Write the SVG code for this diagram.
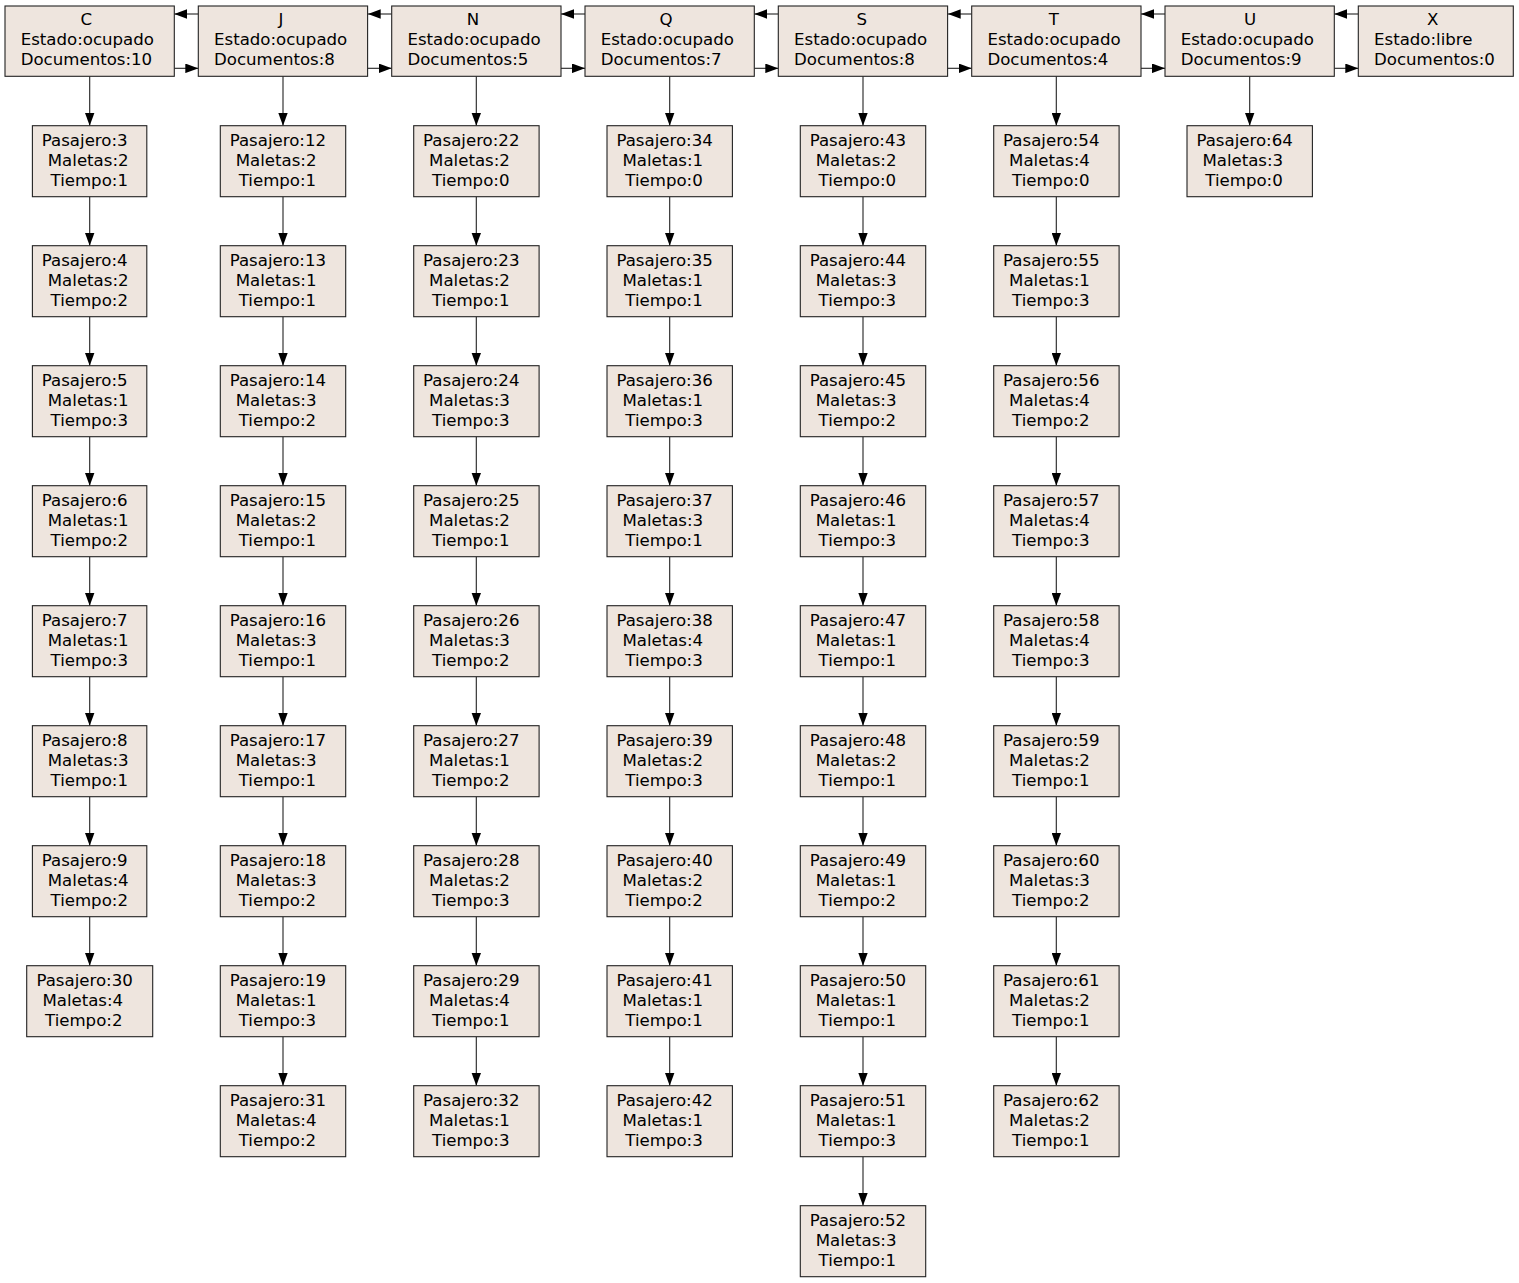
<svg xmlns="http://www.w3.org/2000/svg" width="1519" height="1283" viewBox="0 0 1519 1283">
<style>
  .box { fill: #eee5de; stroke: #222; stroke-width: 1.1; }
  .t { font-family: "DejaVu Sans", "Liberation Sans", sans-serif; font-size: 16.6px; fill: #000; }
  .m { text-anchor: middle; }
  .e { fill: none; stroke: #222; stroke-width: 1.1; marker-end: url(#arrow); }
</style>
<defs>
  <marker id="arrow" markerUnits="userSpaceOnUse" viewBox="0 0 13 9.6" refX="13" refY="4.8" markerWidth="13" markerHeight="9.6" orient="auto">
    <path d="M0,0 L13,4.8 L0,9.6 z" fill="#000"/>
  </marker>
</defs>
<rect width="1519" height="1283" fill="#fff"/>

<!-- connectors -->
<g id="edges">
  <!-- queue links between the counters -->
  <path class="e" d="M198.3,14 H174.3"/><path class="e" d="M174.3,68.3 H198.3"/>
  <path class="e" d="M391.7,14 H367.7"/><path class="e" d="M367.7,68.3 H391.7"/>
  <path class="e" d="M585,14 H561"/><path class="e" d="M561,68.3 H585"/>
  <path class="e" d="M778.3,14 H754.3"/><path class="e" d="M754.3,68.3 H778.3"/>
  <path class="e" d="M971.7,14 H947.7"/><path class="e" d="M947.7,68.3 H971.7"/>
  <path class="e" d="M1165,14 H1141"/><path class="e" d="M1141,68.3 H1165"/>
  <path class="e" d="M1358.3,14 H1334.3"/><path class="e" d="M1334.3,68.3 H1358.3"/>
  <!-- column C -->
  <path class="e" d="M89.7,76.3 V125.7"/>
  <path class="e" d="M89.7,196.7 V245.7"/><path class="e" d="M89.7,316.7 V365.7"/><path class="e" d="M89.7,436.7 V485.7"/>
  <path class="e" d="M89.7,556.7 V605.7"/><path class="e" d="M89.7,676.7 V725.7"/><path class="e" d="M89.7,796.7 V845.7"/>
  <path class="e" d="M89.7,916.7 V965.7"/>
  <!-- column J -->
  <path class="e" d="M283,76.3 V125.7"/>
  <path class="e" d="M283,196.7 V245.7"/><path class="e" d="M283,316.7 V365.7"/><path class="e" d="M283,436.7 V485.7"/>
  <path class="e" d="M283,556.7 V605.7"/><path class="e" d="M283,676.7 V725.7"/><path class="e" d="M283,796.7 V845.7"/>
  <path class="e" d="M283,916.7 V965.7"/><path class="e" d="M283,1036.7 V1085.7"/>
  <!-- column N -->
  <path class="e" d="M476.3,76.3 V125.7"/>
  <path class="e" d="M476.3,196.7 V245.7"/><path class="e" d="M476.3,316.7 V365.7"/><path class="e" d="M476.3,436.7 V485.7"/>
  <path class="e" d="M476.3,556.7 V605.7"/><path class="e" d="M476.3,676.7 V725.7"/><path class="e" d="M476.3,796.7 V845.7"/>
  <path class="e" d="M476.3,916.7 V965.7"/><path class="e" d="M476.3,1036.7 V1085.7"/>
  <!-- column Q -->
  <path class="e" d="M669.7,76.3 V125.7"/>
  <path class="e" d="M669.7,196.7 V245.7"/><path class="e" d="M669.7,316.7 V365.7"/><path class="e" d="M669.7,436.7 V485.7"/>
  <path class="e" d="M669.7,556.7 V605.7"/><path class="e" d="M669.7,676.7 V725.7"/><path class="e" d="M669.7,796.7 V845.7"/>
  <path class="e" d="M669.7,916.7 V965.7"/><path class="e" d="M669.7,1036.7 V1085.7"/>
  <!-- column S -->
  <path class="e" d="M863,76.3 V125.7"/>
  <path class="e" d="M863,196.7 V245.7"/><path class="e" d="M863,316.7 V365.7"/><path class="e" d="M863,436.7 V485.7"/>
  <path class="e" d="M863,556.7 V605.7"/><path class="e" d="M863,676.7 V725.7"/><path class="e" d="M863,796.7 V845.7"/>
  <path class="e" d="M863,916.7 V965.7"/><path class="e" d="M863,1036.7 V1085.7"/><path class="e" d="M863,1156.7 V1205.7"/>
  <!-- column T -->
  <path class="e" d="M1056.3,76.3 V125.7"/>
  <path class="e" d="M1056.3,196.7 V245.7"/><path class="e" d="M1056.3,316.7 V365.7"/><path class="e" d="M1056.3,436.7 V485.7"/>
  <path class="e" d="M1056.3,556.7 V605.7"/><path class="e" d="M1056.3,676.7 V725.7"/><path class="e" d="M1056.3,796.7 V845.7"/>
  <path class="e" d="M1056.3,916.7 V965.7"/><path class="e" d="M1056.3,1036.7 V1085.7"/>
  <!-- column U -->
  <path class="e" d="M1249.7,76.3 V125.7"/>
</g>

<!-- counters -->
<g id="C"><rect class="box" x="5" y="6" width="169.3" height="70.3"/>
  <text class="t m" x="86.2" y="25">C</text><text class="t" x="20.7" y="45">Estado:ocupado</text><text class="t" x="20.7" y="65">Documentos:10</text></g>
<g id="J"><rect class="box" x="198.3" y="6" width="169.3" height="70.3"/>
  <text class="t m" x="281" y="25">J</text><text class="t" x="214" y="45">Estado:ocupado</text><text class="t" x="214" y="65">Documentos:8</text></g>
<g id="N"><rect class="box" x="391.7" y="6" width="169.3" height="70.3"/>
  <text class="t m" x="473" y="25">N</text><text class="t" x="407.4" y="45">Estado:ocupado</text><text class="t" x="407.4" y="65">Documentos:5</text></g>
<g id="Q"><rect class="box" x="585" y="6" width="169.3" height="70.3"/>
  <text class="t m" x="666" y="25">Q</text><text class="t" x="600.7" y="45">Estado:ocupado</text><text class="t" x="600.7" y="65">Documentos:7</text></g>
<g id="S"><rect class="box" x="778.3" y="6" width="169.3" height="70.3"/>
  <text class="t m" x="861.7" y="25">S</text><text class="t" x="794" y="45">Estado:ocupado</text><text class="t" x="794" y="65">Documentos:8</text></g>
<g id="T"><rect class="box" x="971.7" y="6" width="169.3" height="70.3"/>
  <text class="t m" x="1053.8" y="25">T</text><text class="t" x="987.4" y="45">Estado:ocupado</text><text class="t" x="987.4" y="65">Documentos:4</text></g>
<g id="U"><rect class="box" x="1165" y="6" width="169.3" height="70.3"/>
  <text class="t m" x="1250" y="25">U</text><text class="t" x="1180.7" y="45">Estado:ocupado</text><text class="t" x="1180.7" y="65">Documentos:9</text></g>
<g id="X"><rect class="box" x="1358.3" y="6" width="155" height="70.3"/>
  <text class="t m" x="1432.7" y="25">X</text><text class="t" x="1374" y="45">Estado:libre</text><text class="t" x="1374" y="65">Documentos:0</text></g>

<!-- passengers, column C -->
<g id="p3"><rect class="box" x="32.4" y="125.7" width="114.4" height="71"/><text class="t" x="41.8" y="146.2">Pasajero:3</text><text class="t" x="47.8" y="166.2">Maletas:2</text><text class="t" x="50.5" y="186.2">Tiempo:1</text></g>
<g id="p4"><rect class="box" x="32.4" y="245.7" width="114.4" height="71"/><text class="t" x="41.8" y="266.2">Pasajero:4</text><text class="t" x="47.8" y="286.2">Maletas:2</text><text class="t" x="50.5" y="306.2">Tiempo:2</text></g>
<g id="p5"><rect class="box" x="32.4" y="365.7" width="114.4" height="71"/><text class="t" x="41.8" y="386.2">Pasajero:5</text><text class="t" x="47.8" y="406.2">Maletas:1</text><text class="t" x="50.5" y="426.2">Tiempo:3</text></g>
<g id="p6"><rect class="box" x="32.4" y="485.7" width="114.4" height="71"/><text class="t" x="41.8" y="506.2">Pasajero:6</text><text class="t" x="47.8" y="526.2">Maletas:1</text><text class="t" x="50.5" y="546.2">Tiempo:2</text></g>
<g id="p7"><rect class="box" x="32.4" y="605.7" width="114.4" height="71"/><text class="t" x="41.8" y="626.2">Pasajero:7</text><text class="t" x="47.8" y="646.2">Maletas:1</text><text class="t" x="50.5" y="666.2">Tiempo:3</text></g>
<g id="p8"><rect class="box" x="32.4" y="725.7" width="114.4" height="71"/><text class="t" x="41.8" y="746.2">Pasajero:8</text><text class="t" x="47.8" y="766.2">Maletas:3</text><text class="t" x="50.5" y="786.2">Tiempo:1</text></g>
<g id="p9"><rect class="box" x="32.4" y="845.7" width="114.4" height="71"/><text class="t" x="41.8" y="866.2">Pasajero:9</text><text class="t" x="47.8" y="886.2">Maletas:4</text><text class="t" x="50.5" y="906.2">Tiempo:2</text></g>
<g id="p30"><rect class="box" x="26.7" y="965.7" width="126" height="71"/><text class="t" x="36.4" y="986.2">Pasajero:30</text><text class="t" x="42.4" y="1006.2">Maletas:4</text><text class="t" x="45" y="1026.2">Tiempo:2</text></g>

<!-- passengers, column J -->
<g id="p12"><rect class="box" x="220.3" y="125.7" width="125.4" height="71"/><text class="t" x="229.7" y="146.2">Pasajero:12</text><text class="t" x="235.7" y="166.2">Maletas:2</text><text class="t" x="238.7" y="186.2">Tiempo:1</text></g>
<g id="p13"><rect class="box" x="220.3" y="245.7" width="125.4" height="71"/><text class="t" x="229.7" y="266.2">Pasajero:13</text><text class="t" x="235.7" y="286.2">Maletas:1</text><text class="t" x="238.7" y="306.2">Tiempo:1</text></g>
<g id="p14"><rect class="box" x="220.3" y="365.7" width="125.4" height="71"/><text class="t" x="229.7" y="386.2">Pasajero:14</text><text class="t" x="235.7" y="406.2">Maletas:3</text><text class="t" x="238.7" y="426.2">Tiempo:2</text></g>
<g id="p15"><rect class="box" x="220.3" y="485.7" width="125.4" height="71"/><text class="t" x="229.7" y="506.2">Pasajero:15</text><text class="t" x="235.7" y="526.2">Maletas:2</text><text class="t" x="238.7" y="546.2">Tiempo:1</text></g>
<g id="p16"><rect class="box" x="220.3" y="605.7" width="125.4" height="71"/><text class="t" x="229.7" y="626.2">Pasajero:16</text><text class="t" x="235.7" y="646.2">Maletas:3</text><text class="t" x="238.7" y="666.2">Tiempo:1</text></g>
<g id="p17"><rect class="box" x="220.3" y="725.7" width="125.4" height="71"/><text class="t" x="229.7" y="746.2">Pasajero:17</text><text class="t" x="235.7" y="766.2">Maletas:3</text><text class="t" x="238.7" y="786.2">Tiempo:1</text></g>
<g id="p18"><rect class="box" x="220.3" y="845.7" width="125.4" height="71"/><text class="t" x="229.7" y="866.2">Pasajero:18</text><text class="t" x="235.7" y="886.2">Maletas:3</text><text class="t" x="238.7" y="906.2">Tiempo:2</text></g>
<g id="p19"><rect class="box" x="220.3" y="965.7" width="125.4" height="71"/><text class="t" x="229.7" y="986.2">Pasajero:19</text><text class="t" x="235.7" y="1006.2">Maletas:1</text><text class="t" x="238.7" y="1026.2">Tiempo:3</text></g>
<g id="p31"><rect class="box" x="220.3" y="1085.7" width="125.4" height="71"/><text class="t" x="229.7" y="1106.2">Pasajero:31</text><text class="t" x="235.7" y="1126.2">Maletas:4</text><text class="t" x="238.7" y="1146.2">Tiempo:2</text></g>

<!-- passengers, column N -->
<g id="p22"><rect class="box" x="413.7" y="125.7" width="125.4" height="71"/><text class="t" x="423.1" y="146.2">Pasajero:22</text><text class="t" x="429.1" y="166.2">Maletas:2</text><text class="t" x="432" y="186.2">Tiempo:0</text></g>
<g id="p23"><rect class="box" x="413.7" y="245.7" width="125.4" height="71"/><text class="t" x="423.1" y="266.2">Pasajero:23</text><text class="t" x="429.1" y="286.2">Maletas:2</text><text class="t" x="432" y="306.2">Tiempo:1</text></g>
<g id="p24"><rect class="box" x="413.7" y="365.7" width="125.4" height="71"/><text class="t" x="423.1" y="386.2">Pasajero:24</text><text class="t" x="429.1" y="406.2">Maletas:3</text><text class="t" x="432" y="426.2">Tiempo:3</text></g>
<g id="p25"><rect class="box" x="413.7" y="485.7" width="125.4" height="71"/><text class="t" x="423.1" y="506.2">Pasajero:25</text><text class="t" x="429.1" y="526.2">Maletas:2</text><text class="t" x="432" y="546.2">Tiempo:1</text></g>
<g id="p26"><rect class="box" x="413.7" y="605.7" width="125.4" height="71"/><text class="t" x="423.1" y="626.2">Pasajero:26</text><text class="t" x="429.1" y="646.2">Maletas:3</text><text class="t" x="432" y="666.2">Tiempo:2</text></g>
<g id="p27"><rect class="box" x="413.7" y="725.7" width="125.4" height="71"/><text class="t" x="423.1" y="746.2">Pasajero:27</text><text class="t" x="429.1" y="766.2">Maletas:1</text><text class="t" x="432" y="786.2">Tiempo:2</text></g>
<g id="p28"><rect class="box" x="413.7" y="845.7" width="125.4" height="71"/><text class="t" x="423.1" y="866.2">Pasajero:28</text><text class="t" x="429.1" y="886.2">Maletas:2</text><text class="t" x="432" y="906.2">Tiempo:3</text></g>
<g id="p29"><rect class="box" x="413.7" y="965.7" width="125.4" height="71"/><text class="t" x="423.1" y="986.2">Pasajero:29</text><text class="t" x="429.1" y="1006.2">Maletas:4</text><text class="t" x="432" y="1026.2">Tiempo:1</text></g>
<g id="p32"><rect class="box" x="413.7" y="1085.7" width="125.4" height="71"/><text class="t" x="423.1" y="1106.2">Pasajero:32</text><text class="t" x="429.1" y="1126.2">Maletas:1</text><text class="t" x="432" y="1146.2">Tiempo:3</text></g>

<!-- passengers, column Q -->
<g id="p34"><rect class="box" x="607" y="125.7" width="125.4" height="71"/><text class="t" x="616.4" y="146.2">Pasajero:34</text><text class="t" x="622.4" y="166.2">Maletas:1</text><text class="t" x="625.3" y="186.2">Tiempo:0</text></g>
<g id="p35"><rect class="box" x="607" y="245.7" width="125.4" height="71"/><text class="t" x="616.4" y="266.2">Pasajero:35</text><text class="t" x="622.4" y="286.2">Maletas:1</text><text class="t" x="625.3" y="306.2">Tiempo:1</text></g>
<g id="p36"><rect class="box" x="607" y="365.7" width="125.4" height="71"/><text class="t" x="616.4" y="386.2">Pasajero:36</text><text class="t" x="622.4" y="406.2">Maletas:1</text><text class="t" x="625.3" y="426.2">Tiempo:3</text></g>
<g id="p37"><rect class="box" x="607" y="485.7" width="125.4" height="71"/><text class="t" x="616.4" y="506.2">Pasajero:37</text><text class="t" x="622.4" y="526.2">Maletas:3</text><text class="t" x="625.3" y="546.2">Tiempo:1</text></g>
<g id="p38"><rect class="box" x="607" y="605.7" width="125.4" height="71"/><text class="t" x="616.4" y="626.2">Pasajero:38</text><text class="t" x="622.4" y="646.2">Maletas:4</text><text class="t" x="625.3" y="666.2">Tiempo:3</text></g>
<g id="p39"><rect class="box" x="607" y="725.7" width="125.4" height="71"/><text class="t" x="616.4" y="746.2">Pasajero:39</text><text class="t" x="622.4" y="766.2">Maletas:2</text><text class="t" x="625.3" y="786.2">Tiempo:3</text></g>
<g id="p40"><rect class="box" x="607" y="845.7" width="125.4" height="71"/><text class="t" x="616.4" y="866.2">Pasajero:40</text><text class="t" x="622.4" y="886.2">Maletas:2</text><text class="t" x="625.3" y="906.2">Tiempo:2</text></g>
<g id="p41"><rect class="box" x="607" y="965.7" width="125.4" height="71"/><text class="t" x="616.4" y="986.2">Pasajero:41</text><text class="t" x="622.4" y="1006.2">Maletas:1</text><text class="t" x="625.3" y="1026.2">Tiempo:1</text></g>
<g id="p42"><rect class="box" x="607" y="1085.7" width="125.4" height="71"/><text class="t" x="616.4" y="1106.2">Pasajero:42</text><text class="t" x="622.4" y="1126.2">Maletas:1</text><text class="t" x="625.3" y="1146.2">Tiempo:3</text></g>

<!-- passengers, column S -->
<g id="p43"><rect class="box" x="800.3" y="125.7" width="125.4" height="71"/><text class="t" x="809.7" y="146.2">Pasajero:43</text><text class="t" x="815.7" y="166.2">Maletas:2</text><text class="t" x="818.6" y="186.2">Tiempo:0</text></g>
<g id="p44"><rect class="box" x="800.3" y="245.7" width="125.4" height="71"/><text class="t" x="809.7" y="266.2">Pasajero:44</text><text class="t" x="815.7" y="286.2">Maletas:3</text><text class="t" x="818.6" y="306.2">Tiempo:3</text></g>
<g id="p45"><rect class="box" x="800.3" y="365.7" width="125.4" height="71"/><text class="t" x="809.7" y="386.2">Pasajero:45</text><text class="t" x="815.7" y="406.2">Maletas:3</text><text class="t" x="818.6" y="426.2">Tiempo:2</text></g>
<g id="p46"><rect class="box" x="800.3" y="485.7" width="125.4" height="71"/><text class="t" x="809.7" y="506.2">Pasajero:46</text><text class="t" x="815.7" y="526.2">Maletas:1</text><text class="t" x="818.6" y="546.2">Tiempo:3</text></g>
<g id="p47"><rect class="box" x="800.3" y="605.7" width="125.4" height="71"/><text class="t" x="809.7" y="626.2">Pasajero:47</text><text class="t" x="815.7" y="646.2">Maletas:1</text><text class="t" x="818.6" y="666.2">Tiempo:1</text></g>
<g id="p48"><rect class="box" x="800.3" y="725.7" width="125.4" height="71"/><text class="t" x="809.7" y="746.2">Pasajero:48</text><text class="t" x="815.7" y="766.2">Maletas:2</text><text class="t" x="818.6" y="786.2">Tiempo:1</text></g>
<g id="p49"><rect class="box" x="800.3" y="845.7" width="125.4" height="71"/><text class="t" x="809.7" y="866.2">Pasajero:49</text><text class="t" x="815.7" y="886.2">Maletas:1</text><text class="t" x="818.6" y="906.2">Tiempo:2</text></g>
<g id="p50"><rect class="box" x="800.3" y="965.7" width="125.4" height="71"/><text class="t" x="809.7" y="986.2">Pasajero:50</text><text class="t" x="815.7" y="1006.2">Maletas:1</text><text class="t" x="818.6" y="1026.2">Tiempo:1</text></g>
<g id="p51"><rect class="box" x="800.3" y="1085.7" width="125.4" height="71"/><text class="t" x="809.7" y="1106.2">Pasajero:51</text><text class="t" x="815.7" y="1126.2">Maletas:1</text><text class="t" x="818.6" y="1146.2">Tiempo:3</text></g>
<g id="p52"><rect class="box" x="800.3" y="1205.7" width="125.4" height="71"/><text class="t" x="809.7" y="1226.2">Pasajero:52</text><text class="t" x="815.7" y="1246.2">Maletas:3</text><text class="t" x="818.6" y="1266.2">Tiempo:1</text></g>

<!-- passengers, column T -->
<g id="p54"><rect class="box" x="993.7" y="125.7" width="125.4" height="71"/><text class="t" x="1003.1" y="146.2">Pasajero:54</text><text class="t" x="1009.1" y="166.2">Maletas:4</text><text class="t" x="1012" y="186.2">Tiempo:0</text></g>
<g id="p55"><rect class="box" x="993.7" y="245.7" width="125.4" height="71"/><text class="t" x="1003.1" y="266.2">Pasajero:55</text><text class="t" x="1009.1" y="286.2">Maletas:1</text><text class="t" x="1012" y="306.2">Tiempo:3</text></g>
<g id="p56"><rect class="box" x="993.7" y="365.7" width="125.4" height="71"/><text class="t" x="1003.1" y="386.2">Pasajero:56</text><text class="t" x="1009.1" y="406.2">Maletas:4</text><text class="t" x="1012" y="426.2">Tiempo:2</text></g>
<g id="p57"><rect class="box" x="993.7" y="485.7" width="125.4" height="71"/><text class="t" x="1003.1" y="506.2">Pasajero:57</text><text class="t" x="1009.1" y="526.2">Maletas:4</text><text class="t" x="1012" y="546.2">Tiempo:3</text></g>
<g id="p58"><rect class="box" x="993.7" y="605.7" width="125.4" height="71"/><text class="t" x="1003.1" y="626.2">Pasajero:58</text><text class="t" x="1009.1" y="646.2">Maletas:4</text><text class="t" x="1012" y="666.2">Tiempo:3</text></g>
<g id="p59"><rect class="box" x="993.7" y="725.7" width="125.4" height="71"/><text class="t" x="1003.1" y="746.2">Pasajero:59</text><text class="t" x="1009.1" y="766.2">Maletas:2</text><text class="t" x="1012" y="786.2">Tiempo:1</text></g>
<g id="p60"><rect class="box" x="993.7" y="845.7" width="125.4" height="71"/><text class="t" x="1003.1" y="866.2">Pasajero:60</text><text class="t" x="1009.1" y="886.2">Maletas:3</text><text class="t" x="1012" y="906.2">Tiempo:2</text></g>
<g id="p61"><rect class="box" x="993.7" y="965.7" width="125.4" height="71"/><text class="t" x="1003.1" y="986.2">Pasajero:61</text><text class="t" x="1009.1" y="1006.2">Maletas:2</text><text class="t" x="1012" y="1026.2">Tiempo:1</text></g>
<g id="p62"><rect class="box" x="993.7" y="1085.7" width="125.4" height="71"/><text class="t" x="1003.1" y="1106.2">Pasajero:62</text><text class="t" x="1009.1" y="1126.2">Maletas:2</text><text class="t" x="1012" y="1146.2">Tiempo:1</text></g>

<!-- passengers, column U -->
<g id="p64"><rect class="box" x="1187" y="125.7" width="125.4" height="71"/><text class="t" x="1196.4" y="146.2">Pasajero:64</text><text class="t" x="1202.4" y="166.2">Maletas:3</text><text class="t" x="1205.3" y="186.2">Tiempo:0</text></g>
</svg>
